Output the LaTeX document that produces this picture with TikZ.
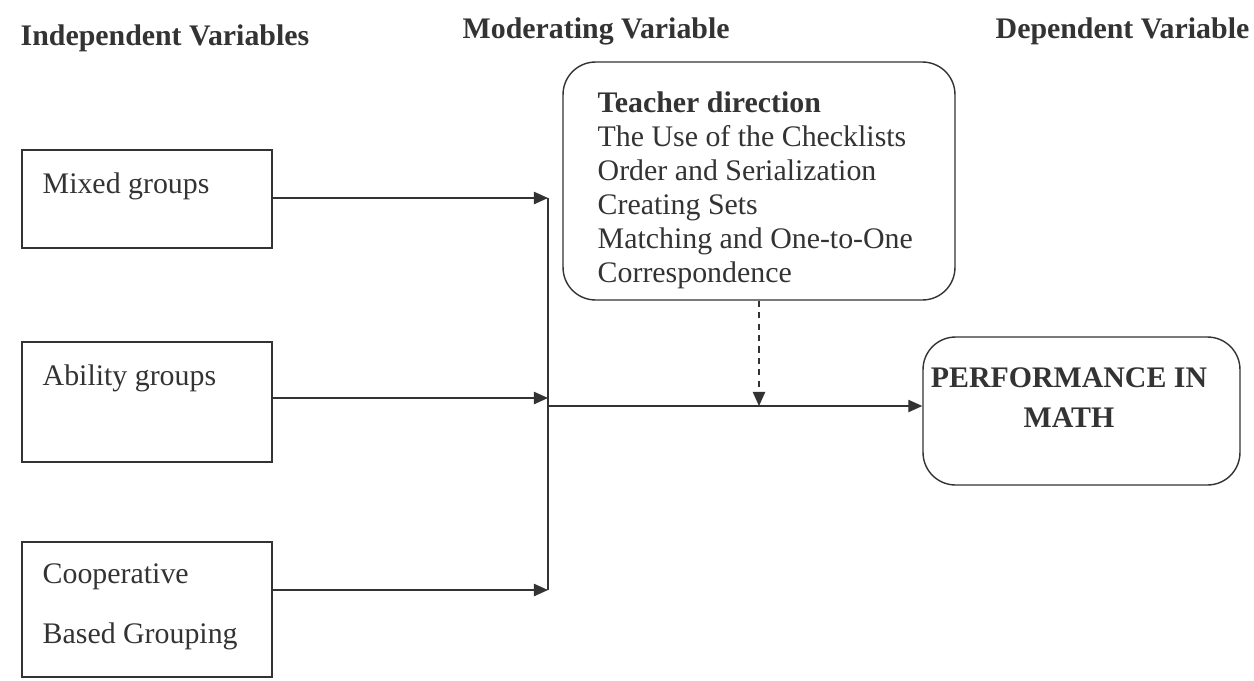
\documentclass[tikz,border=0pt]{standalone}
\usepackage{fontspec}
\setmainfont{Liberation Serif}
\usepackage{xcolor}
\usetikzlibrary{arrows.meta}
\definecolor{ink}{HTML}{333333}

\begin{document}
\begin{tikzpicture}[x=0.02cm, y=-0.02cm, line width=0.8pt, color=ink,
        >={Triangle[length=8pt,width=7pt]},
        varbox/.style={draw, rectangle, minimum width=5cm, inner sep=0pt},
        roundbox/.style={draw, rectangle, rounded corners=0.65cm, inner sep=0pt},
        txt/.style={font=\fontsize{17}{19.4}\selectfont, inner sep=0pt},
        head/.style={font=\fontsize{17}{20}\selectfont\bfseries, inner sep=0pt}]
        \useasboundingbox (0,0) rectangle (1254,680);

        \node[head, anchor=base west] (indep) at (20,45) {Independent Variables};
        \node[head, anchor=base west] (moder) at (462,38) {Moderating Variable};
        \node[head, anchor=base east] (depen) at (1250,38) {Dependent Variable};

        % independent variables
        \node[varbox, minimum height=1.96cm] (mixed) at (147,199) {};
        \node[txt, anchor=base west] (mixedtxt) at (42,193) {Mixed groups};
        \node[varbox, minimum height=2.4cm] (ability) at (147,402) {};
        \node[txt, anchor=base west] (abilitytxt) at (42,385) {Ability groups};
        \node[varbox, minimum height=2.7cm] (coop) at (147,609.5) {};
        \node[txt, font=\fontsize{17}{34}\selectfont, align=left, anchor=north west] (cooptxt) at (42,563) {Cooperative\\Based Grouping};

        % moderating variable
        \node[roundbox, minimum width=7.84cm, minimum height=4.76cm] (teacher) at (759,181) {};
        \node[txt, align=left, anchor=north west] (teachertxt) at (597,91) {\textbf{Teacher direction}\\The Use of the Checklists\\Order and Serialization\\Creating Sets\\Matching and One-to-One\\Correspondence};

        % dependent variable
        \node[roundbox, minimum width=6.34cm, minimum height=2.96cm] (perf) at (1081.5,411) {};
        \node[txt, font=\fontsize{17}{22.8}\selectfont\bfseries, align=center, anchor=north] (perftxt) at (1069,367) {PERFORMANCE IN\\MATH};

        \coordinate (hubtop) at (548,198);
        \coordinate (hubmid) at (548,398);
        \coordinate (hubbot) at (548,590);
        \coordinate (hubout) at (548,406);

        \draw[->] (mixed.east |- hubtop) -- (hubtop);
        \draw[->] (ability.east |- hubmid) -- (hubmid);
        \draw[->] (coop.east |- hubbot) -- (hubbot);
        \draw (hubtop) -- (hubbot);
        \draw[->] (hubout) -- (hubout -| perf.west);
        \draw[->, dashed, dash pattern=on 3.5pt off 3pt] (teacher.south) -- (teacher.south |- hubout);
    \end{tikzpicture}
\end{document}
